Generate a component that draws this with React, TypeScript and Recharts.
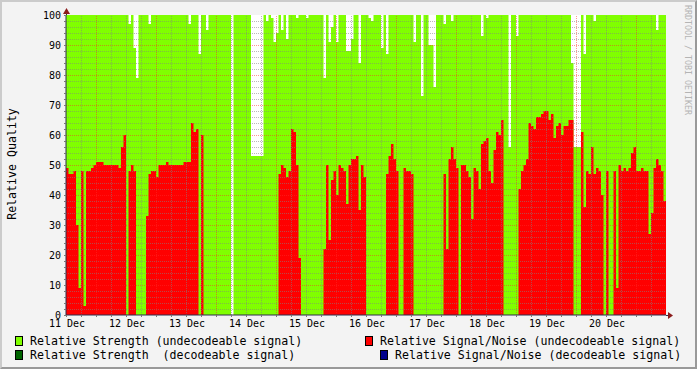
import { Area, CartesianGrid, ComposedChart, ReferenceLine, XAxis, YAxis } from "recharts";

// one value per hour, 11 Dec 00:00 .. 20 Dec 23:00
const dayLabels = ["11 Dec", "12 Dec", "13 Dec", "14 Dec", "15 Dec", "16 Dec", "17 Dec", "18 Dec", "19 Dec", "20 Dec"];

const strength = [
  100,100,100,100,100,100,100,100,100,100,100,100,100,100,100,100,100,100,100,100,100,100,100,100,
  100,97,100,89,79,100,100,100,100,97,100,100,100,100,100,100,100,100,100,100,100,100,100,100,
  100,97,100,100,100,87,100,100,95,100,100,100,100,100,100,100,100,100,0,100,100,100,100,100,
  100,100,53,53,53,53,53,100,98,100,99,91,94,100,95,100,92,100,100,100,99,100,100,100,
  99,100,100,100,100,100,100,79,100,91,96,100,91,100,100,100,88,88,92,100,100,84,100,100,
  100,99,98,100,100,100,89,100,87,100,100,100,100,100,100,100,100,100,100,91,100,100,73,100,
  100,90,90,76,100,100,100,97,100,100,98,100,100,100,100,100,100,100,100,100,100,100,93,100,
  99,100,100,100,100,100,100,100,100,56,100,100,93,100,100,100,100,100,100,100,100,100,100,100,
  100,100,100,100,100,100,100,100,100,100,84,56,56,56,100,87,100,100,100,98,100,100,100,100,
  100,100,100,100,100,100,100,100,100,100,100,100,100,100,100,100,100,100,100,100,95,100,100,100,
];

const snr = [
  49,47,47,48,30,9,48,3,48,48,49,50,51,51,51,50,50,50,50,50,50,49,56,60,
  0,48,50,48,0,0,0,0,33,47,48,48,46,50,50,50,51,50,50,50,50,50,50,51,
  51,51,64,61,62,0,60,0,0,0,0,0,0,0,0,0,0,0,0,0,0,0,0,0,
  0,0,0,0,0,0,0,0,0,0,0,0,0,47,50,49,46,48,62,61,50,19,0,0,
  0,0,0,0,0,0,0,22,50,25,45,48,40,50,49,48,37,50,52,52,53,35,50,46,
  0,0,0,0,0,0,0,0,47,53,57,52,48,0,0,49,48,48,47,0,0,0,0,0,
  0,0,0,0,0,0,0,47,22,52,56,52,49,0,50,50,48,46,32,49,48,42,57,58,
  59,48,44,55,61,60,65,0,0,0,0,0,0,42,48,50,52,64,63,62,66,66,67,68,
  68,65,67,59,63,64,60,63,63,65,65,0,0,0,61,36,48,47,56,47,49,48,40,0,
  48,0,0,48,9,50,48,49,48,49,54,56,48,48,49,48,48,27,34,49,52,50,48,38,
];

const data = strength.map((s, i) => ({ h: i, strength: s, snr: snr[i] }));
data.push({ h: strength.length, strength: strength[strength.length - 1], snr: snr[snr.length - 1] });

const hourTicks = Array.from({ length: 40 }, (_, i) => i * 6);
const majorX = hourTicks.filter((h) => h % 24 === 12);
const minorX = hourTicks.filter((h) => h > 0 && h % 24 !== 12);
const yTicks = Array.from({ length: 51 }, (_, i) => i * 2);
const majorY = yTicks.filter((v) => v > 0 && v < 100 && v % 10 === 0);
const minorY = yTicks.filter((v) => v > 0 && v < 100 && v % 10 !== 0);

const MONO = "DejaVu Sans Mono, monospace";
const GRID = "rgba(130,130,130,0.55)";
const MGRID = "rgba(255,40,40,0.5)";

const YTick = (props: any) => {
  const { x, y, payload } = props;
  const v = payload.value as number;
  const major = v % 10 === 0;
  return (
    <g>
      <line x1={x - 2} x2={x} y1={y + 0.5} y2={y + 0.5} stroke="#777" />
      {major && (
        <text x={x - 5} y={y} dy={3.5} textAnchor="end" fontFamily={MONO} fontSize={10} fill="#000">
          {v}
        </text>
      )}
    </g>
  );
};

const XTick = (props: any) => {
  const { x, y, payload } = props;
  const h = payload.value as number;
  return (
    <g>
      <line x1={x + 0.5} x2={x + 0.5} y1={y} y2={y + 2} stroke="#777" />
      {h % 24 === 0 && (
        <text x={x + 1} y={y + 12} textAnchor="middle" fontFamily={MONO} fontSize={10} fill="#000">
          {dayLabels[h / 24]}
        </text>
      )}
    </g>
  );
};

const legendRows = [
  [
    { color: "#80ff00", text: "Relative Strength (undecodeable signal)", left: 15 },
    { color: "#ff0000", text: "Relative Signal/Noise (undecodeable signal)", left: 365 },
  ],
  [
    { color: "#006400", text: "Relative Strength  (decodeable signal)", left: 15 },
    { color: "#00008b", text: "Relative Signal/Noise (decodeable signal)", left: 380 },
  ],
];

export default function App() {
  return (
    <div
      style={{
        position: "absolute",
        left: 0,
        top: 0,
        width: 697,
        height: 369,
        background: "#f3f3f3",
        boxSizing: "border-box",
        borderTop: "2px solid #cbcbcb",
        borderLeft: "2px solid #cbcbcb",
        borderRight: "2px solid #999",
        borderBottom: "2px solid #999",
        overflow: "hidden",
      }}
    >
      <div style={{ position: "absolute", left: -2, top: -2 }}>
        <ComposedChart width={697} height={369} data={data} margin={{ top: 15, right: 31, bottom: 24, left: 10 }}>
          <CartesianGrid horizontal={false} vertical={false} fill="#ffffff" />
          <XAxis
            dataKey="h"
            type="number"
            domain={[0, 240]}
            ticks={hourTicks}
            interval={0}
            height={30}
            tickSize={0}
            tickMargin={0}
            tick={<XTick />}
            axisLine={{ stroke: "#2c2c4c" }}
          />
          <YAxis
            domain={[0, 100]}
            ticks={yTicks}
            interval={0}
            width={56}
            tickSize={0}
            tickMargin={0}
            tick={<YTick />}
            axisLine={{ stroke: "#2c2c4c" }}
          />
          <Area
            dataKey="strength"
            type="stepAfter"
            fill="#80ff00"
            fillOpacity={1}
            stroke="none"
            dot={false}
            activeDot={false}
            isAnimationActive={false}
          />
          <Area
            dataKey="snr"
            type="stepAfter"
            fill="#ff0000"
            fillOpacity={1}
            stroke="none"
            dot={false}
            activeDot={false}
            isAnimationActive={false}
          />
          {minorY.map((v) => (
            <ReferenceLine key={"my" + v} y={v} stroke={GRID} strokeDasharray="1 1" shapeRendering="crispEdges" />
          ))}
          {minorX.map((h) => (
            <ReferenceLine key={"mx" + h} x={h} stroke={GRID} strokeDasharray="1 1" shapeRendering="crispEdges" />
          ))}
          {majorY.map((v) => (
            <ReferenceLine key={"Y" + v} y={v} stroke={MGRID} strokeDasharray="1 1" shapeRendering="crispEdges" />
          ))}
          {majorX.map((h) => (
            <ReferenceLine key={"X" + h} x={h} stroke={MGRID} strokeDasharray="1 1" shapeRendering="crispEdges" />
          ))}
        </ComposedChart>

        <svg width={697} height={369} style={{ position: "absolute", left: 0, top: 0, pointerEvents: "none" }}>
          <line x1={66.5} x2={66.5} y1={10} y2={15} stroke="#2c2c4c" />
          <polygon points="63,14 70,14 66.5,8" fill="#8b1c1c" />
          <line x1={666} x2={670} y1={315.5} y2={315.5} stroke="#2c2c4c" />
          <polygon points="668,312 668,319 673,315.5" fill="#8b1c1c" />
        </svg>

        <div
          style={{
            position: "absolute",
            left: 12,
            top: 164,
            transform: "translate(-50%, -50%) rotate(-90deg)",
            fontFamily: MONO,
            fontSize: 11.6,
            whiteSpace: "pre",
            color: "#000",
          }}
        >
          Relative Quality
        </div>

        <div
          style={{
            position: "absolute",
            left: 688,
            top: 60,
            transform: "translate(-50%, -50%) rotate(90deg)",
            fontFamily: MONO,
            fontSize: 8.3,
            whiteSpace: "pre",
            color: "#b4b4b4",
          }}
        >
          RRDTOOL / TOBI OETIKER
        </div>

        {legendRows.map((row, r) =>
          row.map((item) => (
            <div
              key={item.text}
              style={{
                position: "absolute",
                left: item.left,
                top: 334 + r * 14,
                height: 14,
                display: "flex",
                alignItems: "center",
                fontFamily: MONO,
                fontSize: 11.6,
                whiteSpace: "pre",
                color: "#000",
              }}
            >
              <span
                style={{
                  display: "inline-block",
                  width: 6,
                  height: 8,
                  background: item.color,
                  border: "1px solid #000",
                  marginRight: 7,
                }}
              />
              {item.text}
            </div>
          ))
        )}
      </div>
    </div>
  );
}
